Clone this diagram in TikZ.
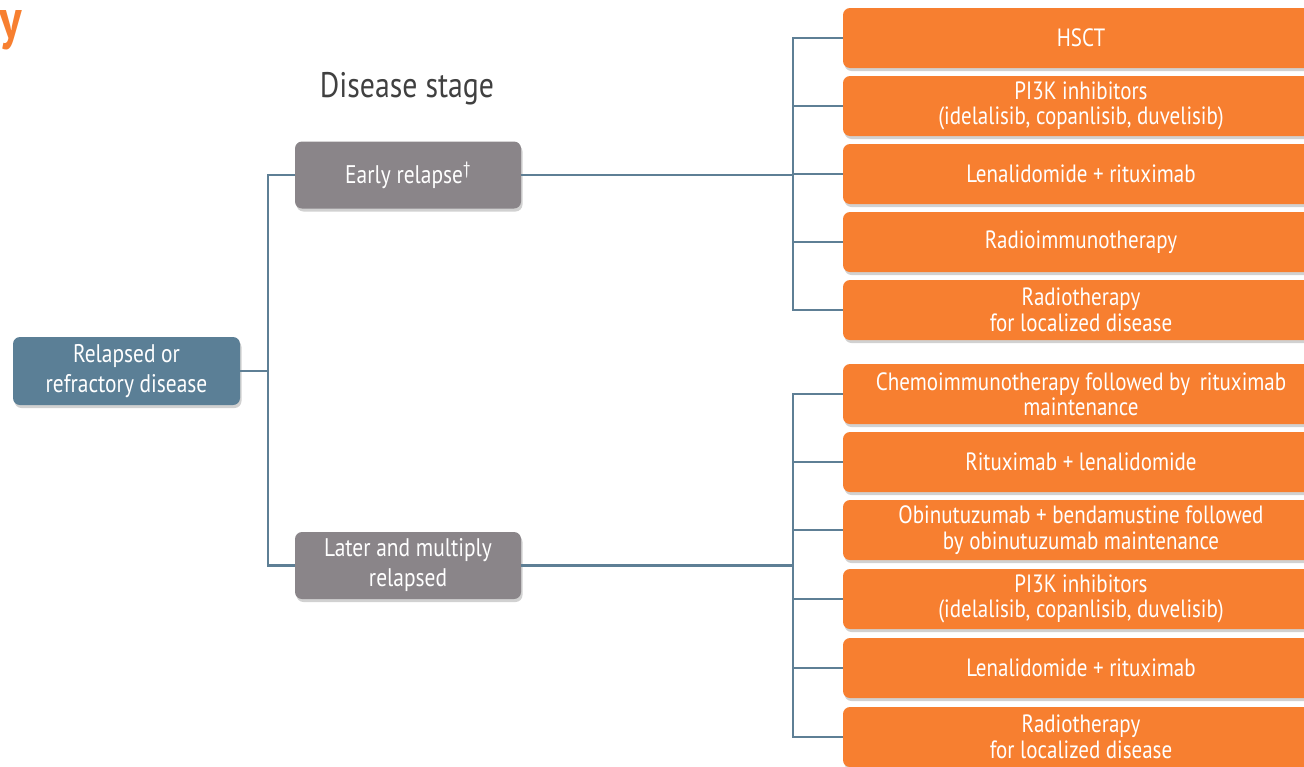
\documentclass[tikz,border=0pt]{standalone}
\usepackage{fontspec}
\setmainfont{PT Sans}[FakeStretch=0.84]
\usetikzlibrary{shadows}
\definecolor{orng}{HTML}{F77F30}
\definecolor{grbox}{HTML}{8A8589}
\definecolor{blbox}{HTML}{5B7F96}
\definecolor{conn}{HTML}{5E7F95}
\definecolor{ttl}{HTML}{404040}
\begin{document}
\begin{tikzpicture}[x=1pt,y=-1pt,
  shad/.style={drop shadow={shadow xshift=1.5pt,shadow yshift=-3pt,opacity=0.3,fill=black!60}},
  treat/.style={fill=orng,rounded corners=7pt,minimum width=476pt,minimum height=60pt,
    text=white,font=\fontsize{25}{25.5}\selectfont,align=center,inner sep=0pt,shad},
  stage/.style={fill=grbox,rounded corners=7pt,minimum width=226pt,minimum height=67pt,
    text=white,font=\fontsize{25.5}{30}\selectfont,align=center,inner sep=0pt,shad},
  root/.style={fill=blbox,rounded corners=7pt,minimum width=227pt,minimum height=68pt,
    text=white,font=\fontsize{25.5}{30}\selectfont,align=center,inner sep=0pt,shad},
  link/.style={draw=conn,line width=2.2pt}]
\useasboundingbox (0,0) rectangle (1304,766);
\node[text=orng,font=\fontsize{56}{56}\bfseries\selectfont,anchor=base west,inner sep=0pt] (ttlY) at (-1,38) {y};
\node[text=ttl,font=\fontsize{35.5}{40}\selectfont] (ds) at (407,89) {Disease stage};
% root and stages
\node[root] (R) at (126.5,371) {Relapsed or\\refractory disease};
\node[stage] (E) at (408,175) {Early relapse\textsuperscript{†}};
\node[stage] (L) at (408,565.5) {Later and multiply\\relapsed};
% early relapse treatments
\node[treat] (a1) at (1081,38) {HSCT};
\node[treat] (a2) at (1081,106) {PI3K inhibitors\\(idelalisib, copanlisib, duvelisib)};
\node[treat] (a3) at (1081,174) {Lenalidomide + rituximab};
\node[treat] (a4) at (1081,242) {Radioimmunotherapy};
\node[treat] (a5) at (1081,310) {Radiotherapy\\for localized disease};
% later treatments
\node[treat] (b1) at (1081,394) {Chemoimmunotherapy followed by\, rituximab\\maintenance};
\node[treat] (b2) at (1081,462) {Rituximab + lenalidomide};
\node[treat] (b3) at (1081,530) {Obinutuzumab + bendamustine followed\\by obinutuzumab maintenance};
\node[treat] (b4) at (1081,599) {PI3K inhibitors\\(idelalisib, copanlisib, duvelisib)};
\node[treat] (b5) at (1081,668) {Lenalidomide + rituximab};
\node[treat] (b6) at (1081,737) {Radiotherapy\\for localized disease};
% connectors
\draw[link] (E.west) -- ++(-27,0) |- (R.east);
\draw[link] (L.west) -- ++(-27,0) |- (R.east);
\foreach \n in {a1,a2,a3,a4,a5}{\draw[link] (\n.west) -- ++(-50,0) |- (E.east);}
\foreach \n in {b1,b2,b3,b4,b5,b6}{\draw[link] (\n.west) -- ++(-50,0) |- (L.east);}
\end{tikzpicture}
\end{document}
